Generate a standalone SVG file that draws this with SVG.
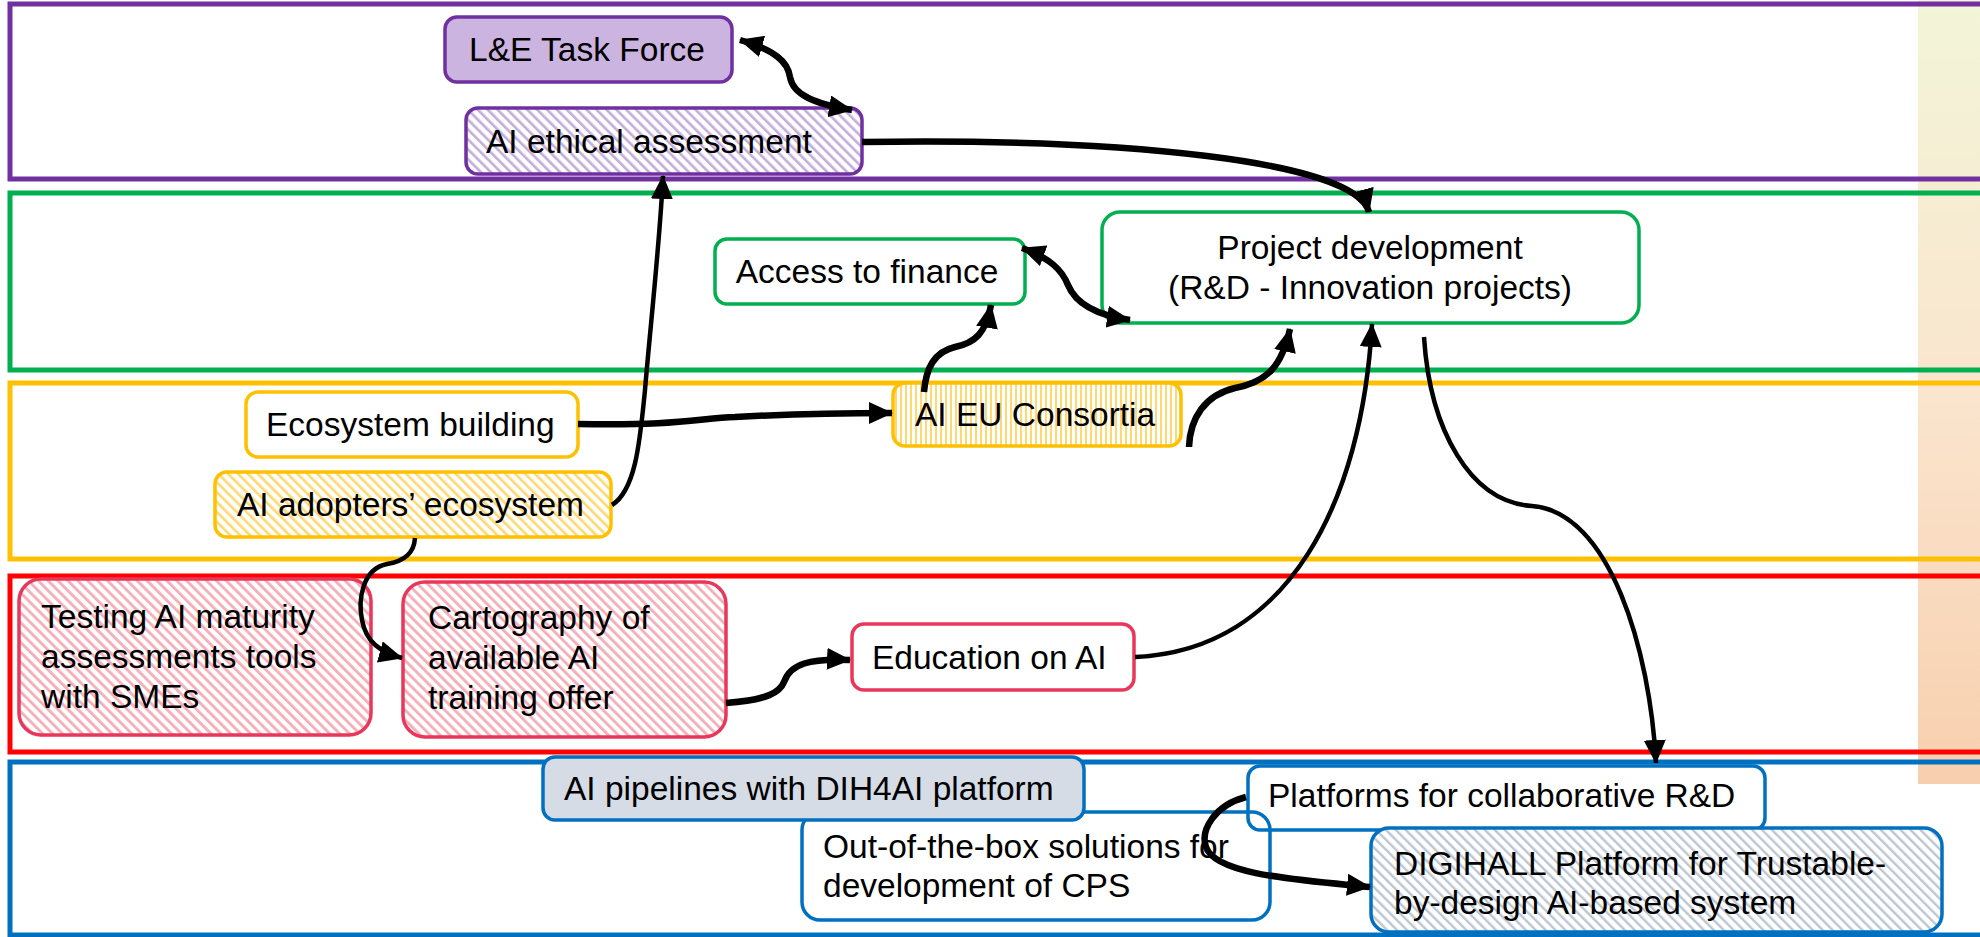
<svg xmlns="http://www.w3.org/2000/svg" width="1980" height="937" viewBox="0 0 1980 937">
<style>
text{font-family:"Liberation Sans",Arial,sans-serif;font-size:33.5px;fill:#000}
.band{fill:none;stroke-width:5}
.node{stroke-width:3.5}
.pu{stroke:#7030A0}
.gr{stroke:#00B050}
.ye{stroke:#FFC000}
.re{stroke:#E8375A}
.bl{stroke:#0070C0}
.c{fill:none;stroke:#000;stroke-linecap:butt}
.thick{stroke-width:6.5}
.thin{stroke-width:4.5}
.end{marker-end:url(#ah)}
.both{marker-start:url(#ah);marker-end:url(#ah)}
</style>
<defs>
<linearGradient id="side" x1="0" y1="0" x2="0" y2="1">
<stop offset="0" stop-color="#F2F5D8"/>
<stop offset="0.5" stop-color="#FAE5CE"/>
<stop offset="1" stop-color="#F8CFAE"/>
</linearGradient>
<pattern id="hPu" width="7" height="7" patternUnits="userSpaceOnUse" patternTransform="rotate(-45)">
<rect width="7" height="7" fill="#fff"/><rect x="0" y="0" width="2.6" height="7" fill="#C3ADDC"/>
</pattern>
<pattern id="hYe" width="7" height="7" patternUnits="userSpaceOnUse" patternTransform="rotate(-45)">
<rect width="7" height="7" fill="#fff"/><rect x="0" y="0" width="2.6" height="7" fill="#FFD970"/>
</pattern>
<pattern id="vYe" width="5" height="5" patternUnits="userSpaceOnUse">
<rect width="5" height="5" fill="#fff"/><rect x="0" y="0" width="2" height="5" fill="#FFD970"/>
</pattern>
<pattern id="hRe" width="7" height="7" patternUnits="userSpaceOnUse" patternTransform="rotate(-45)">
<rect width="7" height="7" fill="#fff"/><rect x="0" y="0" width="2.8" height="7" fill="#F5ADB8"/>
</pattern>
<pattern id="hBl" width="7" height="7" patternUnits="userSpaceOnUse" patternTransform="rotate(-45)">
<rect width="7" height="7" fill="#fff"/><rect x="0" y="0" width="2.4" height="7" fill="#BCC6D3"/>
</pattern>
<marker id="ah" markerUnits="userSpaceOnUse" markerWidth="24" markerHeight="22" viewBox="0 0 24 22" refX="23" refY="11" orient="auto-start-reverse">
<path d="M0,0 L24,11 L0,22 z" fill="#000"/>
</marker>
</defs>
<rect width="1980" height="937" fill="#fff"/>
<rect x="1918" y="0" width="62" height="784" fill="url(#side)"/>
<g id="lanes">
<rect class="band pu" x="10" y="4" width="1990" height="175"/>
<rect class="band gr" x="10" y="193" width="1990" height="177"/>
<rect class="band ye" x="10" y="383" width="1990" height="176"/>
<rect class="band" stroke="#FF0000" x="10" y="576" width="1990" height="176"/>
<rect class="band bl" x="10" y="762" width="1990" height="173"/>
</g>
<g id="n-le-task-force">
<rect class="node pu" x="445" y="17" width="287" height="65" rx="12" fill="#CBB4DF"/>
<text x="587" y="61" text-anchor="middle">L&amp;E Task Force</text>
</g>
<g id="n-ai-ethical">
<rect class="node pu" x="466" y="108" width="396" height="66" rx="12" fill="url(#hPu)"/>
<text x="486" y="153">AI ethical assessment</text>
</g>
<g id="n-access-finance">
<rect class="node gr" x="715" y="239" width="310" height="65" rx="12" fill="#fff"/>
<text x="867" y="283" text-anchor="middle">Access to finance</text>
</g>
<g id="n-project-dev">
<rect class="node gr" x="1102" y="212" width="537" height="111" rx="18" fill="#fff"/>
<text x="1370" y="259" text-anchor="middle">Project development</text>
<text x="1370" y="299" text-anchor="middle">(R&amp;D - Innovation projects)</text>
</g>
<g id="n-ecosystem-building">
<rect class="node ye" x="246" y="392" width="332" height="65" rx="12" fill="#fff"/>
<text x="266" y="436">Ecosystem building</text>
</g>
<g id="n-ai-adopters">
<rect class="node ye" x="215" y="472" width="396" height="65" rx="12" fill="url(#hYe)"/>
<text x="237" y="516">AI adopters’ ecosystem</text>
</g>
<g id="n-ai-eu-consortia">
<rect class="node ye" x="893" y="383" width="288" height="63" rx="12" fill="url(#vYe)"/>
<text x="915" y="426">AI EU Consortia</text>
</g>
<g id="n-testing">
<rect class="node re" x="19" y="579" width="352" height="156" rx="22" fill="url(#hRe)"/>
<text x="41" y="628" font-size="34">Testing AI maturity</text>
<text x="41" y="668" font-size="34">assessments tools</text>
<text x="41" y="708" font-size="34">with SMEs</text>
</g>
<g id="n-cartography">
<rect class="node re" x="403" y="582" width="323" height="155" rx="22" fill="url(#hRe)"/>
<text x="428" y="629" font-size="34">Cartography of</text>
<text x="428" y="669" font-size="34">available AI</text>
<text x="428" y="709" font-size="34">training offer</text>
</g>
<g id="n-education">
<rect class="node re" x="852" y="624" width="282" height="66" rx="12" fill="#fff"/>
<text x="872" y="669">Education on AI</text>
</g>
<g id="n-out-of-box">
<rect class="node bl" x="802" y="812" width="468" height="108" rx="18" fill="#fff"/>
<text x="823" y="858">Out-of-the-box solutions for</text>
<text x="823" y="897">development of CPS</text>
</g>
<g id="n-pipelines">
<rect class="node bl" x="543" y="757" width="541" height="63" rx="12" fill="#D6DCE5"/>
<text x="564" y="800">AI pipelines with DIH4AI platform</text>
</g>
<g id="n-platforms">
<rect class="node bl" x="1248" y="766" width="517" height="64" rx="12" fill="none"/>
<text x="1268" y="807">Platforms for collaborative R&amp;D</text>
</g>
<g id="n-digihall">
<rect class="node bl" x="1371" y="828" width="571" height="104" rx="18" fill="url(#hBl)"/>
<text x="1394" y="875">DIGIHALL Platform for Trustable-</text>
<text x="1394" y="914">by-design AI-based system</text>
</g>
<g id="connectors">
<path class="c thick both" d="M740,40 C775,50 788,62 790,77 C793,95 815,104 852,110"/>
<path class="c thick end" d="M862,142 C1120,138 1355,160 1369,212"/>
<path class="c thin end" d="M612,505 C636,490 640,440 645,390 C650,330 660,240 663,176"/>
<path class="c thick end" d="M578,424 C680,426 700,418 735,417 C790,414 840,413 892,413"/>
<path class="c thick end" d="M924,392 C926,368 934,352 955,347 C975,343 986,333 991,305"/>
<path class="c thick end" d="M1189,447 C1190,418 1205,395 1235,388 C1268,382 1282,365 1290,329"/>
<path class="c thick both" d="M1022,248 C1050,258 1062,270 1068,285 C1075,302 1095,315 1130,320"/>
<path class="c thin end" d="M1135,657 C1290,650 1362,500 1372,324"/>
<path class="c thin end" d="M1424,337 C1430,430 1470,502 1532,506 C1610,512 1650,650 1656,763"/>
<path class="c thin end" d="M415,538 C414,553 405,561 387,564 C362,569 358,600 362,620 C366,642 380,652 402,658"/>
<path class="c thick end" d="M726,703 C768,700 780,692 784,682 C790,664 810,658 850,660"/>
<path class="c thick end" d="M1246,797 C1215,805 1200,830 1206,847 C1215,875 1300,880 1370,887"/>
</g>
</svg>
